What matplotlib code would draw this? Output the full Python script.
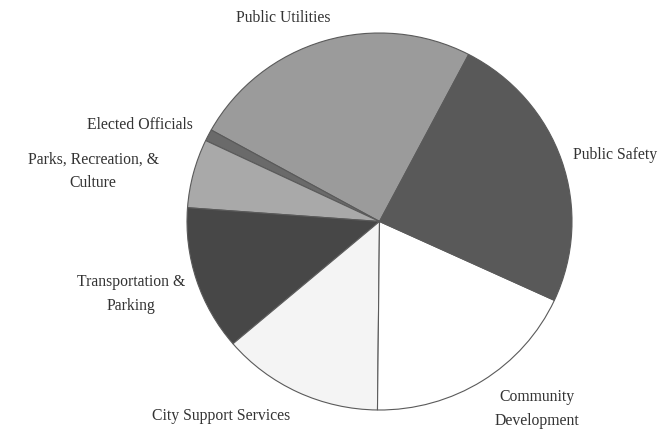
import matplotlib.pyplot as plt

categories = ['Public Utilities', 'Elected Officials', 'Parks, Recreation, &\nCulture',
              'Transportation &\nParking', 'City Support Services',
              'Community\nDevelopment', 'Public Safety']
shares = [24.6, 1.0, 5.9, 12.4, 13.6, 18.3, 24.2]
colors = ['#9b9b9b', '#6a6a6a', '#a9a9a9', '#474747', '#f4f4f4', '#ffffff', '#595959']

W, H = 662, 434
fig = plt.figure(figsize=(W / 100, H / 100), dpi=100)
plt.rcParams['font.family'] = 'Liberation Serif'

# axes box sized to the pie (slightly taller than wide in pixels)
left, right, top, bottom = 187, 572, 33, 410
ax = fig.add_axes([left / W, 1 - bottom / H, (right - left) / W, (bottom - top) / H])
ax.pie(shares, colors=colors, startangle=62.4, counterclock=True,
       wedgeprops=dict(edgecolor='#5a5a5a', linewidth=0.8))
ax.set_aspect('auto')
ax.set_xlim(-1.0, 1.0)
ax.set_ylim(-1.0, 1.0)

# label spots in pixels (x, y, alignment)
label_pos = [(283, 18, 'center'), (140, 125, 'center'), (93, 171, 'center'),
             (131, 294, 'center'), (221, 416, 'center'), (537, 409, 'center'),
             (573, 155, 'left')]
for name, (x, y, ha) in zip(categories, label_pos):
    fig.text(x / W, 1 - y / H, name, ha=ha, va='center', fontsize=11.3,
             color='#333333', linespacing=1.6)

fig.savefig('out.png', dpi=100, facecolor='white')
